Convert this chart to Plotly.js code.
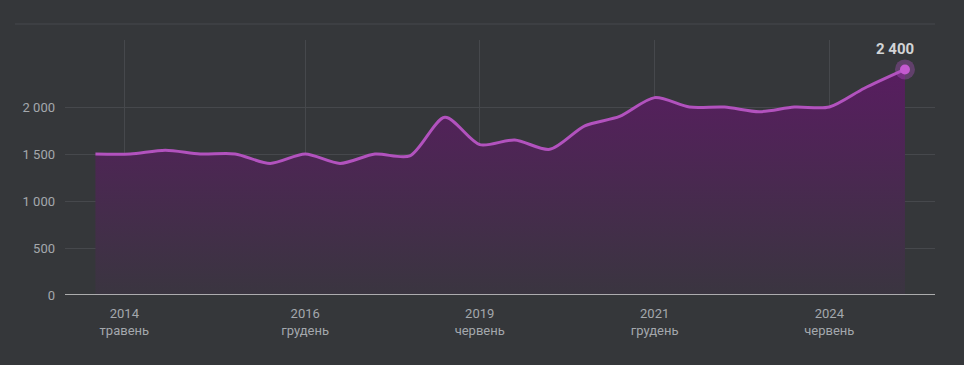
<!DOCTYPE html>
<html>
<head>
<meta charset="utf-8">
<script src="https://cdn.plot.ly/plotly-3.0.1.min.js"></script>
<style>
html,body{margin:0;padding:0;background:#35373a;}
#chart{width:964px;height:365px;}
</style>
</head>
<body>
<div id="chart"></div>
<script>
const dates = ['2013-12-01','2014-06-01','2014-12-01','2015-06-01','2015-12-01','2016-06-01',
  '2016-12-01','2017-06-01','2017-12-01','2018-06-01','2018-12-01','2019-06-01',
  '2019-12-01','2020-06-01','2020-12-01','2021-06-01','2021-12-01','2022-06-01',
  '2022-12-01','2023-06-01','2023-12-01','2024-06-01','2024-12-01','2025-07-01'];
const values = [1500,1500,1540,1500,1500,1400,
  1500,1400,1500,1480,1890,1600,
  1650,1550,1800,1900,2100,2000,
  2000,1950,2000,2000,2200,2400];
const tickDates = ['2014-05-01','2016-12-01','2019-06-01','2021-12-01','2024-06-01'];
const tickLabels = ['2014<br>травень','2016<br>грудень','2019<br>червень','2021<br>грудень','2024<br>червень'];
const yTicks = [0,500,1000,1500,2000];

const lastX = dates[dates.length-1];
const lastY = values[values.length-1];

const traces = [
  {
    x: dates, y: values, type:'scatter', mode:'lines',
    line:{shape:'spline', smoothing:0.8, color:'#b252be', width:3},
    fill:'tozeroy',
    fillgradient:{type:'vertical', colorscale:[[0,'#3a3540'],[1,'#581d60']]},
    hoverinfo:'skip'
  },
  {
    x:[lastX], y:[lastY], type:'scatter', mode:'markers',
    marker:{size:20, color:'rgba(180,82,200,0.35)'}, hoverinfo:'skip'
  },
  {
    x:[lastX], y:[lastY], type:'scatter', mode:'markers',
    marker:{size:10, color:'#c45ad0'}, hoverinfo:'skip'
  }
];

const layout = {
  width:964, height:365,
  paper_bgcolor:'#35373a', plot_bgcolor:'#35373a',
  margin:{l:65, r:29, t:40, b:70},
  showlegend:false,
  separators:', ',
  font:{family:'Roboto, sans-serif', color:'#a4a8ad', size:12},
  xaxis:{
    type:'date',
    range:['2013-06-25','2025-12-05'],
    tickvals:tickDates, ticktext:tickLabels,
    showgrid:true, gridcolor:'#46484c', gridwidth:1,
    zeroline:false, showline:false, ticks:'',
    tickfont:{size:13, color:'#a4a8ad'},
    ticklabelstandoff:9
  },
  yaxis:{
    range:[0,2713],
    tickvals:yTicks, tickformat:',d',
    showgrid:true, gridcolor:'#46484c', gridwidth:1,
    zeroline:false, showline:false, ticks:'',
    tickfont:{size:13, color:'#a4a8ad'},
    ticklabelstandoff:9
  },
  shapes:[
    {type:'line', xref:'paper', yref:'paper', x0:-0.0575, x1:1, y0:1.0627, y1:1.0627,
     line:{color:'#46484c', width:1}},
    {type:'line', xref:'paper', yref:'y', x0:0, x1:1, y0:0, y1:0,
     line:{color:'#d4d4d4', width:1.5}}
  ],
  annotations:[
    {x:lastX, y:lastY, xref:'x', yref:'y', text:'<b>2 400</b>', showarrow:false,
     yshift:20, xshift:-10, font:{family:'Roboto, sans-serif', size:15, color:'#d2d4d6'}}
  ]
};

Plotly.newPlot('chart', traces, layout, {displayModeBar:false, staticPlot:true});
</script>
</body>
</html>
